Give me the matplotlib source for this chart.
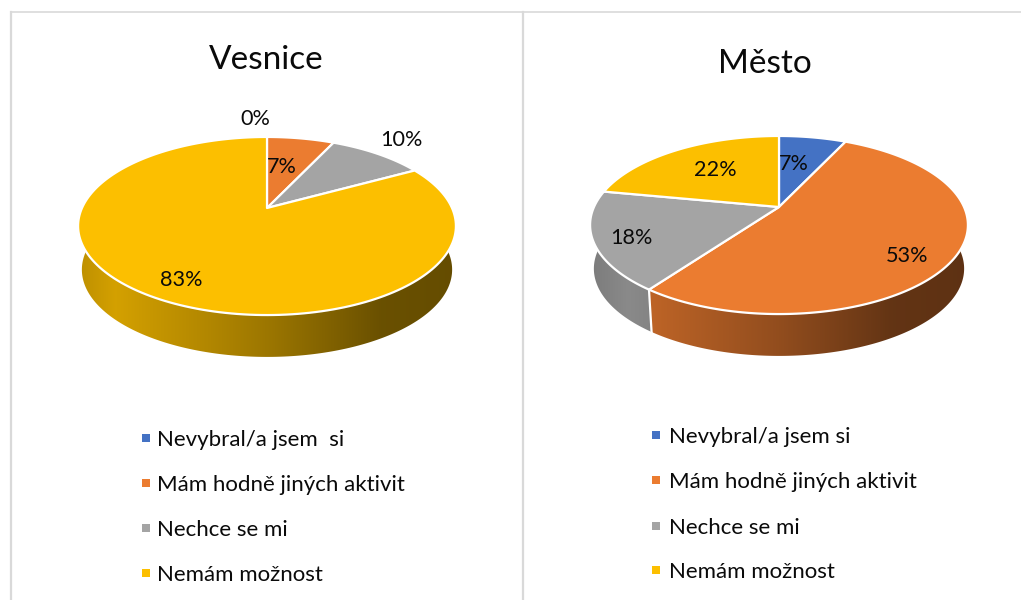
import numpy as np
from matplotlib import pyplot as plt
from matplotlib.patches import Polygon
from matplotlib.colors import to_rgb

# data
labels = ['Nevybral/a jsem  si', 'Mám hodně jiných aktivit', 'Nechce se mi', 'Nemám možnost']
labels_mesto = ['Nevybral/a jsem si', 'Mám hodně jiných aktivit', 'Nechce se mi', 'Nemám možnost']
vesnice = [0, 7, 10, 83]
mesto = [7, 53, 18, 22]
colors = ['#4472C4', '#EB7C30', '#A4A4A4', '#FCBF00']

plt.rcParams['font.family'] = ['Lato', 'DejaVu Sans']

fig = plt.figure(figsize=(10.21, 6), dpi=100)
ax = fig.add_axes([0, 0, 1, 1])

# perspective of the tilted disc, fitted on the picture
K = 0.2023
SX = 185
SY = 85.4
SHRINK = 0.98
DROP = 44
stops_x = [0, 0.1, 0.5, 0.8, 1]
stops_f = [0.75, 0.84, 0.62, 0.42, 0.40]


def project(t):
    w = 1 + K * np.cos(t)
    return SX * np.sin(t) / w, -SY * np.cos(t) / w


def arc(cx, cy, t0, t1, low=False):
    t = np.linspace(t0, t1, 200)
    x, y = project(t)
    if low:
        return np.column_stack([cx + SHRINK * x, cy + DROP + SHRINK * y])
    return np.column_stack([cx + x, cy + y])


def draw_pie(cx, cy, values):
    total = sum(values)
    edges = np.radians(np.cumsum([0] + values) / total * 360)
    grad_x = np.linspace(0, 1, 300)
    shade = np.interp(grad_x, stops_x, stops_f)

    # side wall, only the front part shows
    for i in range(len(values)):
        t0 = max(edges[i], np.radians(85))
        t1 = min(edges[i + 1], np.radians(275))
        if t1 <= t0:
            continue
        outline = np.vstack([arc(cx, cy, t0, t1), arc(cx, cy, t0, t1, low=True)[::-1]])
        rgb = np.array(to_rgb(colors[i]))
        img = shade[None, :, None] * rgb[None, None, :]
        im = ax.imshow(img, extent=(cx - 190, cx + 190, cy + 160, cy - 80),
                       aspect='auto', interpolation='bilinear', zorder=2)
        im.set_clip_path(Polygon(outline, transform=ax.transData))
        if np.radians(85) < edges[i + 1] < np.radians(275):
            a = arc(cx, cy, edges[i + 1], edges[i + 1])[0]
            b = arc(cx, cy, edges[i + 1], edges[i + 1], low=True)[0]
            ax.plot([a[0], b[0]], [a[1], b[1]], color='white', lw=1.6, zorder=3)

    # top face
    for i in range(len(values)):
        if values[i] == 0:
            continue
        pts = np.vstack([[cx, cy], arc(cx, cy, edges[i], edges[i + 1])])
        ax.add_patch(Polygon(pts, closed=True, facecolor=colors[i], edgecolor='white',
                             lw=1.6, joinstyle='round', zorder=4))


draw_pie(267, 208, vesnice)
draw_pie(779, 207, mesto)

# percent labels
pct_vesnice = [(255, 119), (282, 167), (401, 140), (181, 280)]
pct_mesto = [(794, 164), (907, 256), (631, 238), (715, 170)]
for val, pos in zip(vesnice, pct_vesnice):
    ax.text(pos[0], pos[1], str(val) + '%', ha='center', va='center', fontsize=15.6, color='#0a0a0a', zorder=5)
for val, pos in zip(mesto, pct_mesto):
    ax.text(pos[0], pos[1], str(val) + '%', ha='center', va='center', fontsize=15.6, color='#0a0a0a', zorder=5)

# titles
ax.text(266, 60, 'Vesnice', ha='center', va='center', fontsize=24, color='#0a0a0a')
ax.text(765, 64, 'Město', ha='center', va='center', fontsize=24, color='#0a0a0a')

# legends
rows_left = [438, 483, 528, 573]
rows_right = [435, 480, 526, 570]
for i in range(4):
    ax.scatter([146], [rows_left[i]], marker='s', s=36, color=colors[i], linewidths=0)
    ax.text(157, rows_left[i] + 2, labels[i], va='center', fontsize=16, color='#0a0a0a')
    ax.scatter([656], [rows_right[i]], marker='s', s=36, color=colors[i], linewidths=0)
    ax.text(669, rows_right[i] + 2, labels_mesto[i], va='center', fontsize=16, color='#0a0a0a')

# frame lines
ax.plot([11, 11], [12, 600], color='#D9D9D9', lw=1.6)
ax.plot([523, 523], [12, 600], color='#D9D9D9', lw=1.6)
ax.plot([11, 1021], [12, 12], color='#D9D9D9', lw=1.2)

ax.set_xlim(0, 1021)
ax.set_ylim(600, 0)
ax.axis('off')
fig.savefig('out.png', dpi=100)
